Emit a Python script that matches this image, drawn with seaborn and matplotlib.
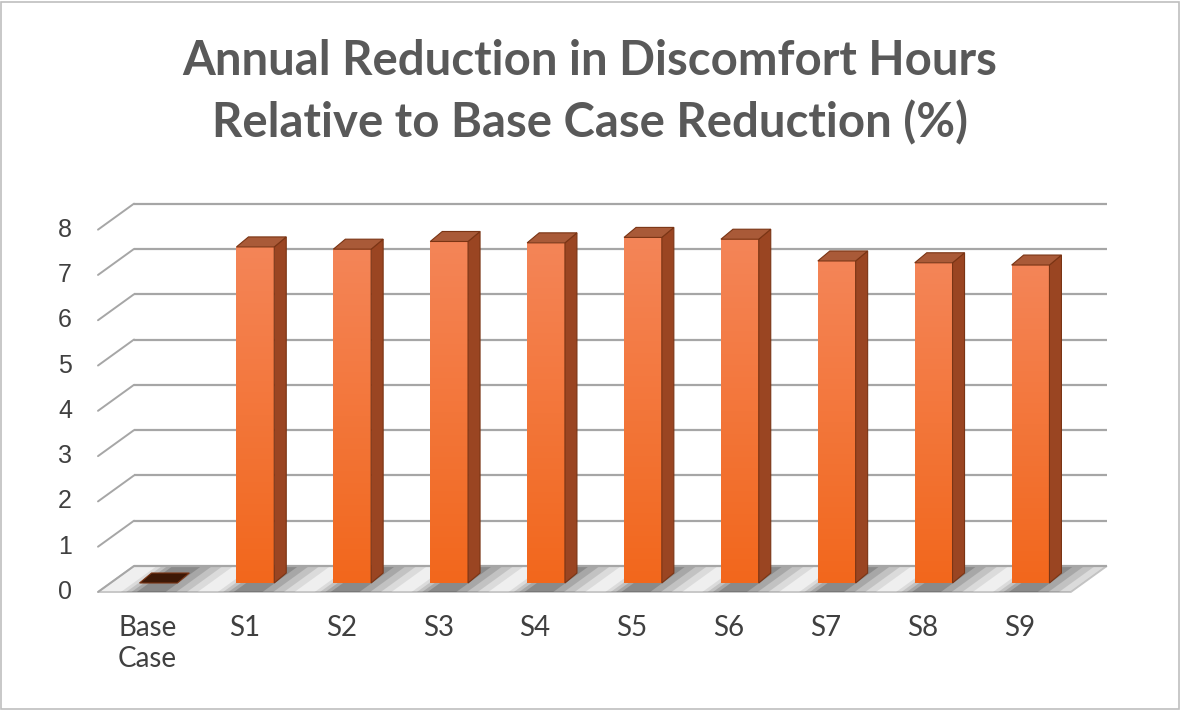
import numpy as np
import matplotlib
matplotlib.use('Agg')
import matplotlib.pyplot as plt
from matplotlib.patches import Polygon, Rectangle
from matplotlib.transforms import offset_copy
from matplotlib.colors import LinearSegmentedColormap
import seaborn as sns

# данные с картинки
categories = ['Base\nCase', 'S1', 'S2', 'S3', 'S4', 'S5', 'S6', 'S7', 'S8', 'S9']
values = [0.0, 7.42, 7.37, 7.54, 7.51, 7.63, 7.59, 7.11, 7.07, 7.02]
y_ticks = [0, 1, 2, 3, 4, 5, 6, 7, 8]
title_lines = ['Annual Reduction in Discomfort Hours',
               'Relative to Base Case Reduction (%)']

sns.set_theme(style='white')
plt.rcParams['font.family'] = ['Lato', 'DejaVu Sans']

W, H = 1181, 710
fig = plt.figure(figsize=(W / 100, H / 100), dpi=100)
fig.patch.set_facecolor('white')

# оси = передняя плоскость столбцов
ax = fig.add_axes([110 / W, 127 / H, 969 / W, 385 / H])
sns.barplot(x=categories, y=values, color='#F37535', saturation=1,
            width=0.39, ax=ax)
bars = list(ax.patches)
XLIM, YLIM = (-0.5, 9.5), (0, 8.5)
ax.set_xlim(*XLIM)
ax.set_ylim(*YLIM)
ax.axis('off')

# пиксели -> единицы данных
px = (XLIM[1] - XLIM[0]) / 969
py = (YLIM[1] - YLIM[0]) / 385

FRONT = (-12, -9)   # передний край пола
BACK = (24, 17)     # задняя стенка
DEPTH = (12, 10)    # глубина столбца


def sh(x, y, off):
    return (x + off[0] * px, y + off[1] * py)


grid_c = '#a6a6a6'

# пол
floor = Polygon([sh(XLIM[0], 0, FRONT), sh(XLIM[1] + 0.04, 0, FRONT),
                 sh(XLIM[1] + 0.04, 0, BACK), sh(XLIM[0], 0, BACK)],
                closed=True, facecolor='#efefef', edgecolor='#c4c4c4',
                lw=1.3, zorder=1, clip_on=False)
ax.add_patch(floor)

# тени на полу (размытые)
for b in bars:
    cx = b.get_x() + b.get_width() / 2
    for w, a in [(0.48, 0.10), (0.38, 0.14), (0.28, 0.18), (0.18, 0.24)]:
        x0, x1 = cx - w * 0.55, cx + w * 1.1
        sp = Polygon([sh(x0, 0, FRONT), sh(x1, 0, FRONT),
                      sh(x1, 0, BACK), sh(x0, 0, BACK)],
                     closed=True, facecolor='#303030', edgecolor='none',
                     alpha=a, zorder=1.5, clip_on=False)
        ax.add_patch(sp)

# сетка: задняя стенка + диагонали
for v in y_ticks:
    p0 = sh(XLIM[0], v, BACK)
    p1 = sh(XLIM[1] + 0.04, v, BACK)
    ax.plot([p0[0], p1[0]], [p0[1], p1[1]], color=grid_c, lw=1.6,
            zorder=2, clip_on=False, solid_capstyle='butt')
    f0 = sh(XLIM[0], v, FRONT)
    ax.plot([f0[0], p0[0]], [f0[1], p0[1]], color=grid_c, lw=1.4,
            zorder=2, clip_on=False)

# столбцы: градиент, бок, верх
cmap_front = LinearSegmentedColormap.from_list('front', ['#F2671C', '#F48558'])
grad = np.linspace(0, 1, 256).reshape(-1, 1)
for b in bars:
    x0 = b.get_x()
    x1 = x0 + b.get_width()
    h = b.get_height()
    b.set_zorder(5)
    b.set_edgecolor('none')
    if h > 0:
        im = ax.imshow(grad, extent=[x0, x1, 0, h], origin='lower',
                       cmap=cmap_front, aspect='auto', zorder=5.1)
        im.set_clip_path(b)
        side = Polygon([(x1, 0), sh(x1, 0, DEPTH), sh(x1, h, DEPTH), (x1, h)],
                       closed=True, facecolor='#9A4522', edgecolor='#7a3414',
                       lw=0.8, zorder=5.2, clip_on=False)
        ax.add_patch(side)
        top_c = '#A95A38'
    else:
        top_c = '#3d1806'
    top = Polygon([(x0, h), (x1, h), sh(x1, h, DEPTH), sh(x0, h, DEPTH)],
                  closed=True, facecolor=top_c, edgecolor='#7a3414',
                  lw=0.8, zorder=5.3, clip_on=False)
    ax.add_patch(top)

ax.set_xlim(*XLIM)
ax.set_ylim(*YLIM)

# подписи оси Y
tick_tr = offset_copy(ax.transData, fig=fig, x=-45, y=-9, units='dots')
for v in y_ticks:
    ax.text(XLIM[0], v, str(v), transform=tick_tr, ha='center', va='center',
            fontsize=18, color='#404040', family=['Liberation Sans', 'DejaVu Sans'])

# подписи категорий
cat_tr = offset_copy(ax.transData, fig=fig, x=-11, y=-32, units='dots')
for i, c in enumerate(categories):
    ax.text(i, 0, c, transform=cat_tr, ha='center', va='top', fontsize=20,
            color='#404040', linespacing=1.25)

# заголовок
fig.text(590 / W, 1 - 75 / H, title_lines[0], ha='center', va='baseline',
         fontsize=34, fontweight='bold', color='#595959')
fig.text(590 / W, 1 - 137 / H, title_lines[1], ha='center', va='baseline',
         fontsize=34, fontweight='bold', color='#595959')

# рамка
fig.patches.append(Rectangle((0.5 / W, 1.5 / H), 1 - 3 / W, 1 - 3 / H,
                             transform=fig.transFigure, fill=False,
                             edgecolor='#bfbfbf', lw=1.2))

fig.savefig('out.png', dpi=100)
plt.close(fig)
